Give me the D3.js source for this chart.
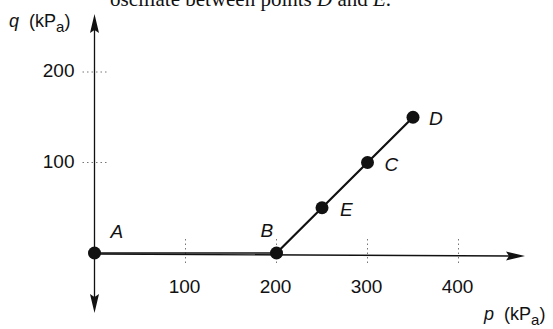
<!DOCTYPE html>
<html>
<head>
<meta charset="utf-8">
<script src="https://cdn.jsdelivr.net/npm/d3@7"></script>
<style>
  html, body { margin: 0; padding: 0; background: #fff; }
  svg { display: block; }
  text { font-family: "Liberation Sans", Arial, Helvetica, sans-serif; fill: #111; }
</style>
</head>
<body>
<svg id="chart" width="553" height="329"></svg>
<script>
// ---- data ----
const pointLabels = ["A", "B", "E", "C", "D"];
const pValues = [0, 200, 250, 300, 350];   // p (kPa)
const qValues = [0, 0, 50, 100, 150];      // q (kPa)
const xTickValues = [100, 200, 300, 400];
const yTickValues = [100, 200];
const captionText = ["oscillate between points ", "D", " and ", "E", "."];

// ---- layout / style ----
const svg = d3.select("#chart");
const x = d3.scaleLinear().domain([0, 400]).range([94.5, 458.5]);
const y = d3.scaleLinear().domain([0, 200]).range([253, 72]);
const x0 = x(0), y0 = y(0);
const ink = "#111";

// caption cut at top (as in the reference)
const cap = svg.append("text")
  .attr("x", 110).attr("y", 6)
  .style("font-family", "'Liberation Serif', 'Times New Roman', serif")
  .style("font-size", "21px");
captionText.forEach((t) => {
  cap.append("tspan").text(t).style("font-style", (t === "D" || t === "E") ? "italic" : "normal");
});

// dotted tick guides
svg.append("g").selectAll("line").data(xTickValues).join("line")
  .attr("x1", d => x(d)).attr("x2", d => x(d))
  .attr("y1", y0 - 14).attr("y2", y0 + 12)
  .attr("stroke", "#777").attr("stroke-width", 1).attr("stroke-dasharray", "1.5,3");
svg.append("g").selectAll("line").data(yTickValues).join("line")
  .attr("x1", x0 - 12).attr("x2", x0 + 14)
  .attr("y1", d => y(d)).attr("y2", d => y(d))
  .attr("stroke", "#777").attr("stroke-width", 1).attr("stroke-dasharray", "1.5,3");

// axes
svg.append("line").attr("x1", x0).attr("x2", 510).attr("y1", y0 + 1).attr("y2", y0 + 3)
  .attr("stroke", ink).attr("stroke-width", 1.3);
svg.append("path").attr("d", `M525,${y0 + 3} L506,${y0 - 1.5} L509,${y0 + 3} L506,${y0 + 7.5} Z`).attr("fill", ink);
svg.append("line").attr("x1", x0).attr("x2", x0).attr("y1", 30).attr("y2", 300)
  .attr("stroke", ink).attr("stroke-width", 1.3);
svg.append("path").attr("d", `M${x0},14 L${x0 - 4.5},33 L${x0},30 L${x0 + 4.5},33 Z`).attr("fill", ink);
svg.append("path").attr("d", `M${x0},313 L${x0 - 4.5},294 L${x0},297 L${x0 + 4.5},294 Z`).attr("fill", ink);

// tick labels
svg.append("g").selectAll("text").data(xTickValues).join("text")
  .attr("x", d => x(d) - 1).attr("y", y0 + 40)
  .attr("text-anchor", "middle").style("font-size", "19px")
  .text(d => d);
svg.append("g").selectAll("text").data(yTickValues).join("text")
  .attr("x", x0 - 20).attr("y", d => y(d) + 5)
  .attr("text-anchor", "end").style("font-size", "19px")
  .text(d => d);

// axis titles
function axisTitle(tx, ty, sym) {
  const t = svg.append("text").attr("x", tx).attr("y", ty).style("font-size", "18px");
  t.append("tspan").text(sym).style("font-style", "italic");
  t.append("tspan").text("\u00a0\u00a0(kP");
  t.append("tspan").text("a").attr("dy", 5).style("font-size", "15px");
  t.append("tspan").text(")").attr("dy", -5);
}
axisTitle(9, 27, "q");
axisTitle(484, 320, "p");

// data polyline
const pts = pValues.map((p, i) => ({ p, q: qValues[i], label: pointLabels[i] }));
const line = d3.line().x(d => x(d.p)).y(d => y(d.q));
svg.append("path").datum(pts.slice(0, 2)).attr("d", line)
  .attr("fill", "none").attr("stroke", ink).attr("stroke-width", 1.5);
svg.append("path").datum(pts.slice(1)).attr("d", line)
  .attr("fill", "none").attr("stroke", ink).attr("stroke-width", 2.2);

svg.append("g").selectAll("circle").data(pts).join("circle")
  .attr("cx", d => x(d.p)).attr("cy", d => y(d.q)).attr("r", 6.5).attr("fill", ink);

const labelOffset = { A: [16, -15], B: [-16, -16], E: [18, 8], C: [17, 8], D: [16, 8] };
svg.append("g").selectAll("text").data(pts).join("text")
  .attr("x", d => x(d.p) + labelOffset[d.label][0])
  .attr("y", d => y(d.q) + labelOffset[d.label][1])
  .style("font-size", "19px").style("font-style", "italic")
  .text(d => d.label);
</script>
</body>
</html>
